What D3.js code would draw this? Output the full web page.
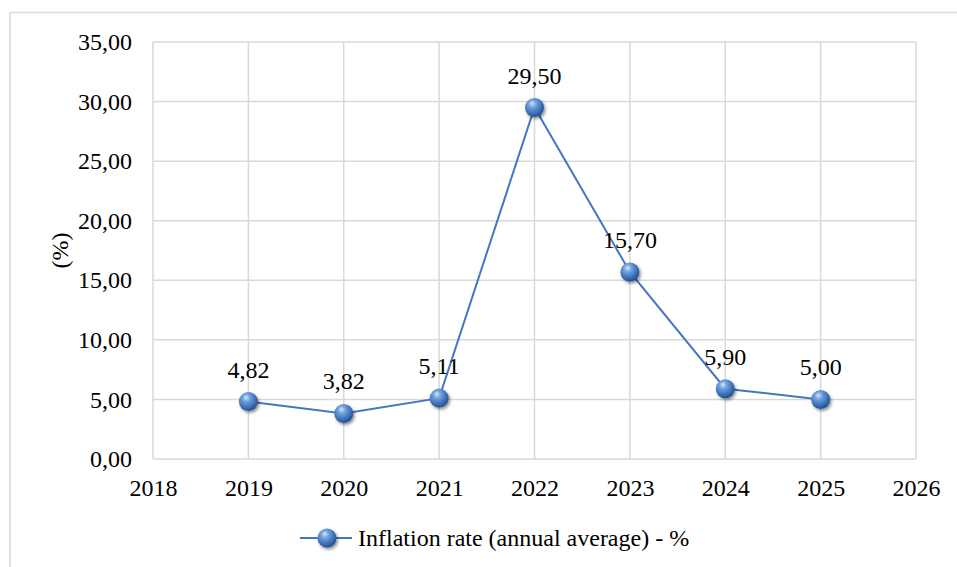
<!DOCTYPE html>
<html>
<head>
<meta charset="utf-8">
<script src="https://cdn.jsdelivr.net/npm/d3@7"></script>
<style>
  html, body { margin: 0; padding: 0; background: #fff; }
  svg { display: block; }
</style>
</head>
<body>
<svg id="chart" width="957" height="567"></svg>
<script>
// Inflation series
const years = [2019, 2020, 2021, 2022, 2023, 2024, 2025];
const inflation = [4.82, 3.82, 5.11, 29.50, 15.70, 5.90, 5.00];
const xTicks = [2018, 2019, 2020, 2021, 2022, 2023, 2024, 2025, 2026];
const yTicks = [0, 5, 10, 15, 20, 25, 30, 35];
const seriesName = "Inflation rate (annual average) - %";
const yTitle = "(%)";

const svg = d3.select("#chart");
const W = 957, H = 567;
const plot = { left: 153, right: 916, top: 42, bottom: 459 };
const lineColor = "#4677be";
const gridColor = "#d9d9d9";
const FONT = '"Liberation Serif"';
const FS = "24px";
const fmt = v => d3.format(".2f")(v).replace(".", ",");
const styleText = sel => sel.style("font-family", FONT).style("font-size", FS).style("fill", "#000");

// Outer chart frame
svg.append("rect")
  .attr("x", 10).attr("y", 12.5)
  .attr("width", W + 10).attr("height", H + 10)
  .attr("fill", "none").attr("stroke", gridColor).attr("stroke-width", 1.5);

const x = d3.scaleLinear().domain([2018, 2026]).range([plot.left, plot.right]);
const y = d3.scaleLinear().domain([0, 35]).range([plot.bottom, plot.top]);

// Sphere marker gradient and shadow
const defs = svg.append("defs");
const grad = defs.append("radialGradient")
  .attr("id", "sphere").attr("cx", "40%").attr("cy", "35%").attr("r", "65%")
  .attr("fx", "38%").attr("fy", "28%");
grad.append("stop").attr("offset", "0%").attr("stop-color", "#d3e5fa");
grad.append("stop").attr("offset", "30%").attr("stop-color", "#72a3de");
grad.append("stop").attr("offset", "75%").attr("stop-color", "#3a6fb5");
grad.append("stop").attr("offset", "100%").attr("stop-color", "#24508d");
const shadow = defs.append("filter").attr("id", "shadow")
  .attr("x", "-50%").attr("y", "-50%").attr("width", "200%").attr("height", "200%");
shadow.append("feDropShadow").attr("dx", 1.5).attr("dy", 2).attr("stdDeviation", 1.6)
  .attr("flood-color", "#000").attr("flood-opacity", 0.45);

// Gridlines
const grid = svg.append("g");
grid.selectAll("line.h").data(yTicks).join("line")
  .attr("x1", plot.left).attr("x2", plot.right)
  .attr("y1", d => y(d)).attr("y2", d => y(d))
  .attr("stroke", gridColor).attr("stroke-width", 1.5);
grid.selectAll("line.v").data(xTicks).join("line")
  .attr("y1", plot.top).attr("y2", plot.bottom)
  .attr("x1", d => x(d)).attr("x2", d => x(d))
  .attr("stroke", gridColor).attr("stroke-width", 1.5);

// Axes (labels only, no domain lines)
const yAxis = svg.append("g")
  .attr("transform", `translate(${plot.left},0)`)
  .call(d3.axisLeft(y).tickValues(yTicks).tickFormat(fmt).tickSize(0).tickPadding(21));
yAxis.select(".domain").remove();
yAxis.attr("font-family", null).attr("font-size", null);
yAxis.selectAll("text").call(styleText);

const xAxis = svg.append("g")
  .attr("transform", `translate(0,${plot.bottom})`)
  .call(d3.axisBottom(x).tickValues(xTicks).tickFormat(d3.format("d")).tickSize(0).tickPadding(20));
xAxis.select(".domain").remove();
xAxis.attr("font-family", null).attr("font-size", null);
xAxis.selectAll("text").call(styleText);

svg.append("text")
  .attr("transform", `translate(68,${(plot.top + plot.bottom) / 2}) rotate(-90)`)
  .attr("text-anchor", "middle")
  .call(styleText)
  .text(yTitle);

// Series line
const pts = years.map((yr, i) => ({ yr, v: inflation[i] }));
svg.append("path")
  .datum(pts)
  .attr("fill", "none").attr("stroke", lineColor).attr("stroke-width", 2)
  .attr("d", d3.line().x(d => x(d.yr)).y(d => y(d.v)));

// Markers
svg.append("g").selectAll("circle").data(pts).join("circle")
  .attr("cx", d => x(d.yr)).attr("cy", d => y(d.v)).attr("r", 9.5)
  .attr("fill", "url(#sphere)").attr("filter", "url(#shadow)");

// Value labels
svg.append("g").selectAll("text").data(pts).join("text")
  .attr("x", d => x(d.yr)).attr("y", d => y(d.v) - 24)
  .attr("text-anchor", "middle")
  .call(styleText)
  .text(d => fmt(d.v));

// Legend
const lg = svg.append("g").attr("transform", "translate(0,538)");
lg.append("line").attr("x1", 300).attr("x2", 352).attr("y1", 0).attr("y2", 0)
  .attr("stroke", lineColor).attr("stroke-width", 2);
lg.append("circle").attr("cx", 327).attr("cy", 0).attr("r", 9.5)
  .attr("fill", "url(#sphere)").attr("filter", "url(#shadow)");
lg.append("text").attr("x", 358).attr("y", 0).attr("dy", "0.35em")
  .call(styleText)
  .text(seriesName);
</script>
</body>
</html>
